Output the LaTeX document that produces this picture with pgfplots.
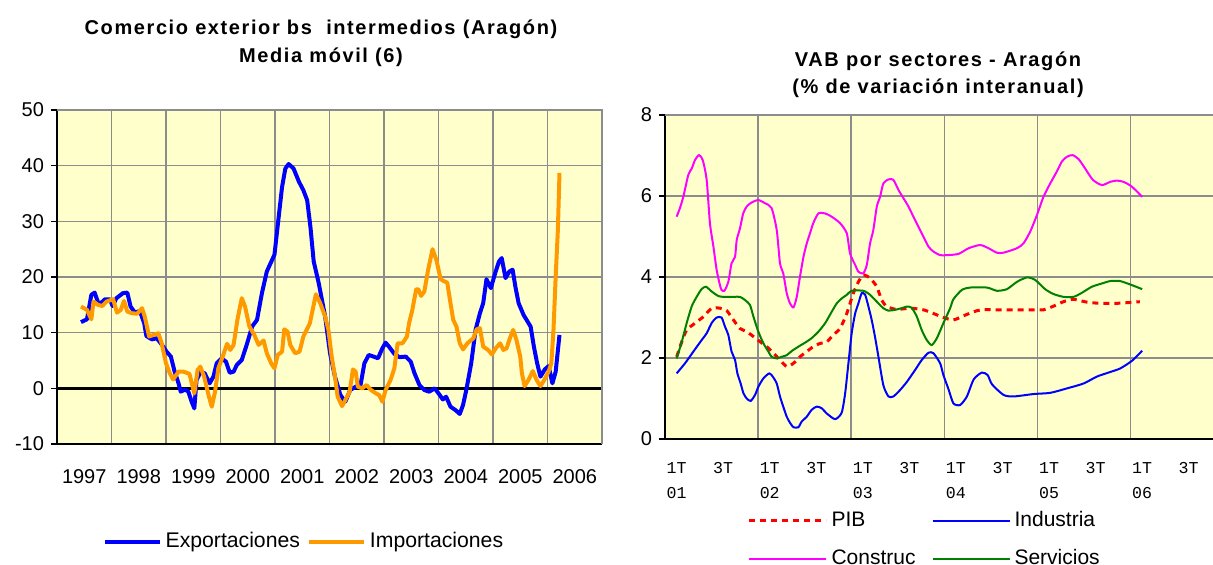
\documentclass[border=0pt]{standalone}
\usepackage{pgfplots}
\pgfplotsset{compat=1.18}
\usepackage{fontspec}
\setmainfont{Liberation Sans}
\newfontfamily\monofont{Liberation Mono}
\newfontfamily\titlefont[LetterSpace=8]{Liberation Sans Bold}
\definecolor{bgy}{HTML}{FFFFCC}
\definecolor{gridg}{HTML}{8C8C8C}
\definecolor{orng}{HTML}{FF9900}
\definecolor{grn}{HTML}{008000}
\definecolor{mag}{HTML}{FF00FF}
\begin{document}
\begin{tikzpicture}[x=1pt,y=1pt]
\useasboundingbox (0,0) rectangle (606.5,282);
\node[align=center,font=\titlefont\fontsize{10}{14}\selectfont] at (160.5,260.5) {Comercio exterior bs~ intermedios (Aragón)\\Media móvil (6)};
\node[align=center,font=\titlefont\fontsize{10}{13.5}\selectfont] at (469,244.5) {VAB por sectores - Aragón\\(\% de variación interanual)};
\begin{axis}[
  at={(28.5pt,60pt)}, anchor=south west,
  width=272.5pt, height=167pt, scale only axis,
  xmin=1997, xmax=2007, ymin=-10, ymax=50,
  ytick={-10,0,10,20,30,40,50},
  xtick={1997.5,1998.5,1999.5,2000.5,2001.5,2002.5,2003.5,2004.5,2005.5,2006.5},
  xticklabels={1997,1998,1999,2000,2001,2002,2003,2004,2005,2006},
  minor xtick={1998,1999,2000,2001,2002,2003,2004,2005,2006},
  xminorgrids, ymajorgrids,
  grid style={gridg,line width=0.6pt}, minor grid style={gridg,line width=0.6pt},
  axis background/.style={fill=bgy},
  axis lines=left, axis line style={-,black,line width=1pt},
  xtick style={draw=none}, minor tick length=0pt,
  ytick style={black,line width=0.6pt}, tick align=outside, major tick length=3pt,
  ticklabel style={font=\fontsize{10}{12}\selectfont},
  /pgf/number format/assume math mode=true,
  xticklabel style={yshift=-6pt},
  legend columns=2, legend cell align=left,
  legend style={at={(0.083,-0.292)}, anchor=west, draw=none, fill=none,
    font=\fontsize{10.6}{12}\selectfont, inner sep=0pt,
    /tikz/every even column/.append style={column sep=1.5pt}},
  legend image code/.code={\draw[#1] (0pt,0pt) -- (27.5pt,0pt);},
  after end axis/.code={\draw[gridg,line width=0.8pt] (rel axis cs:0,1) -- (rel axis cs:1,1) -- (rel axis cs:1,0);},
]
\addplot[black,line width=1.6pt,forget plot] coordinates {(1997,0) (2007,0)};
\addplot[blue,line width=2pt,line join=round] coordinates {
(1997.44,11.9)(1997.55,12.4)(1997.63,16.8)(1997.69,17.2)(1997.77,15)(1997.88,16)(1997.97,16)(1998.02,14.8)(1998.09,16.2)(1998.21,17.1)(1998.29,17.2)(1998.35,14.7)(1998.43,13.6)(1998.52,13.9)(1998.60,11.7)(1998.64,9.4)(1998.74,8.8)(1998.83,9)(1998.92,7.9)(1999.01,6.6)(1999.09,5.7)(1999.15,3.3)(1999.23,0.9)(1999.27,-0.6)(1999.35,-0.2)(1999.41,-0.6)(1999.47,-2.4)(1999.52,-3.6)(1999.56,1.5)(1999.64,3)(1999.71,2.7)(1999.80,0.9)(1999.87,2.1)(1999.93,4.5)(2000.02,5.4)(2000.10,4.8)(2000.17,2.8)(2000.24,3)(2000.30,4.2)(2000.39,5.1)(2000.48,7.8)(2000.58,11.1)(2000.67,12.3)(2000.76,17.1)(2000.85,21)(2000.99,24)(2001.04,28.4)(2001.13,36.2)(2001.19,39.5)(2001.25,40.3)(2001.34,39.5)(2001.44,37.1)(2001.52,35.6)(2001.59,33.8)(2001.65,29)(2001.71,22.8)(2001.80,19)(2001.92,12.9)(2002.01,6.3)(2002.10,2.1)(2002.20,-1.2)(2002.29,-2.4)(2002.38,-0.3)(2002.48,0.3)(2002.57,0.6)(2002.64,4.5)(2002.72,6)(2002.81,5.7)(2002.89,5.4)(2002.97,7.2)(2003.03,8.2)(2003.09,7.5)(2003.19,6.2)(2003.28,5.6)(2003.40,5.7)(2003.49,4.8)(2003.56,2.7)(2003.65,0.6)(2003.74,-0.3)(2003.83,-0.6)(2003.93,0)(2004.00,-0.9)(2004.08,-2.0)(2004.14,-1.5)(2004.22,-3.3)(2004.31,-3.9)(2004.39,-4.6)(2004.45,-3)(2004.51,-0.3)(2004.60,4.5)(2004.68,10.5)(2004.76,13.5)(2004.82,15.3)(2004.88,19.6)(2004.96,18)(2005.04,20.7)(2005.11,22.8)(2005.16,23.4)(2005.23,19.8)(2005.30,21)(2005.36,21.3)(2005.41,18.3)(2005.47,15.3)(2005.56,13.2)(2005.69,11.1)(2005.75,7.5)(2005.81,4.5)(2005.87,2.1)(2005.95,3.4)(2006.02,4)(2006.09,0.9)(2006.15,3)(2006.22,9.6)};
\addlegendentry{Exportaciones}
\addplot[orng,line width=2pt,line join=round] coordinates {
(1997.44,14.7)(1997.55,14.1)(1997.63,12.4)(1997.67,15.6)(1997.75,15)(1997.83,14.8)(1997.91,15.6)(1998.03,16)(1998.10,13.6)(1998.17,14.1)(1998.23,15.7)(1998.29,13.8)(1998.37,13.5)(1998.47,13.4)(1998.56,14.4)(1998.61,12.9)(1998.69,9.3)(1998.77,9.6)(1998.86,9.9)(1998.92,8.1)(1999.00,4.5)(1999.07,2.7)(1999.13,1.6)(1999.23,3)(1999.32,3)(1999.43,2.6)(1999.52,-0.9)(1999.58,3.3)(1999.63,3.9)(1999.70,2.1)(1999.78,-1.2)(1999.84,-3.3)(1999.90,-0.6)(1999.96,3.6)(2000.04,5.7)(2000.12,8)(2000.18,6.9)(2000.24,7.8)(2000.31,12.3)(2000.39,16.2)(2000.45,14.7)(2000.53,11.1)(2000.62,9.6)(2000.70,7.8)(2000.79,8.6)(2000.85,6.3)(2000.93,4.5)(2000.99,3.6)(2001.05,6)(2001.13,6.6)(2001.17,10.6)(2001.23,10.2)(2001.28,7.8)(2001.37,6.3)(2001.45,6.6)(2001.52,9.3)(2001.64,11.7)(2001.75,16.9)(2001.83,15.3)(2001.92,12.9)(2001.98,10.5)(2002.04,5.7)(2002.10,2.1)(2002.15,-1.5)(2002.23,-3.2)(2002.29,-2.1)(2002.37,-0.6)(2002.43,3.4)(2002.48,3)(2002.52,0.3)(2002.60,0)(2002.68,0.6)(2002.75,-0.2)(2002.85,-0.9)(2002.91,-1.2)(2002.97,-2.4)(2003.03,-0.3)(2003.12,1.5)(2003.19,3.6)(2003.25,8.1)(2003.34,8.1)(2003.42,9.3)(2003.46,11.7)(2003.52,14.1)(2003.59,17.8)(2003.63,17.8)(2003.68,16.6)(2003.74,17.4)(2003.81,21.3)(2003.89,25)(2003.96,23.1)(2004.04,19.6)(2004.11,19.2)(2004.16,19)(2004.22,15.3)(2004.27,12.3)(2004.33,11.1)(2004.39,8.1)(2004.45,7)(2004.53,8.1)(2004.64,9)(2004.70,10.6)(2004.76,10.8)(2004.82,7.5)(2004.91,6.9)(2004.98,6.1)(2005.05,7.2)(2005.13,8.1)(2005.19,6.9)(2005.25,7.2)(2005.31,9)(2005.37,10.5)(2005.43,8.7)(2005.50,5.7)(2005.53,2.7)(2005.58,0.4)(2005.65,1.5)(2005.73,3.1)(2005.80,1.5)(2005.87,0.4)(2005.94,1.5)(2006.02,3)(2006.07,4.5)(2006.11,10.5)(2006.15,20.1)(2006.19,28.4)(2006.22,38.7)};
\addlegendentry{Importaciones}
\end{axis}
\begin{axis}[
  at={(332.5pt,62.5pt)}, anchor=south west,
  width=279.3pt, height=162pt, scale only axis,
  xmin=-0.5, xmax=23.5, ymin=0, ymax=8,
  ytick={0,2,4,6,8},
  xtick={0,2,...,22},
  xticklabels={1T\\01,3T,1T\\02,3T,1T\\03,3T,1T\\04,3T,1T\\05,3T,1T\\06,3T},
  minor xtick={3.5,7.5,11.5,15.5,19.5},
  xminorgrids, ymajorgrids,
  grid style={gridg,line width=0.8pt}, minor grid style={gridg,line width=0.8pt},
  axis background/.style={fill=bgy},
  axis lines=left, axis line style={-,black,line width=1pt},
  xtick style={draw=none}, minor tick length=0pt,
  ytick style={black,line width=0.6pt}, tick align=outside, major tick length=3pt,
  yticklabel style={font=\fontsize{10}{12}\selectfont},
  xticklabel style={font=\monofont\fontsize{8.3}{12.5}\selectfont, align=center, anchor=north, yshift=-5pt},
  /pgf/number format/assume math mode=true,
  legend columns=2, legend cell align=left,
  legend style={at={(0.147,-0.21)}, anchor=north west, draw=none, fill=none,
    font=\fontsize{10.5}{12}\selectfont, inner sep=0pt, row sep=6pt,
    /tikz/every even column/.append style={column sep=6pt}},
  legend image code/.code={\draw[#1] (0pt,0pt) -- (38.5pt,0pt);},
  after end axis/.code={\draw[gridg,line width=0.8pt] (rel axis cs:0,1) -- (rel axis cs:1,1);},
]
\addplot[red,line width=1.5pt,dash pattern=on 3pt off 2.5pt,smooth,tension=0.4] coordinates {
(0,2.03)(0.22,2.40)(0.43,2.69)(0.79,2.86)(1.15,3.02)(1.51,3.23)(1.86,3.23)(2.15,3.17)(2.44,2.94)(2.72,2.73)(3.01,2.65)(3.30,2.53)(3.59,2.40)(3.87,2.28)(4.16,2.12)(4.44,1.95)(4.73,1.79)(5.02,1.87)(5.30,2.03)(5.59,2.16)(5.87,2.28)(6.16,2.36)(6.45,2.40)(6.73,2.57)(7.02,2.73)(7.31,3.10)(7.59,3.60)(7.81,3.88)(8.02,4.05)(8.31,3.97)(8.60,3.76)(8.81,3.43)(9.03,3.27)(9.46,3.20)(10.03,3.23)(10.60,3.19)(11.03,3.10)(11.46,3.00)(11.89,2.94)(12.32,3.04)(12.75,3.14)(13.11,3.19)(13.90,3.19)(15.33,3.19)(15.76,3.19)(16.19,3.28)(16.62,3.39)(17.05,3.45)(17.62,3.38)(18.20,3.35)(18.91,3.35)(19.9,3.39)};
\addlegendentry{PIB}
\addplot[blue,line width=1pt,smooth,tension=0.4] coordinates {
(0,1.62)(0.36,1.87)(0.72,2.16)(1.07,2.44)(1.29,2.61)(1.51,2.87)(1.72,3.00)(1.93,3.00)(2.08,2.77)(2.22,2.57)(2.36,2.16)(2.51,1.95)(2.61,1.62)(2.75,1.37)(2.87,1.13)(3.01,1.00)(3.18,0.94)(3.37,1.09)(3.51,1.29)(3.73,1.50)(3.98,1.62)(4.13,1.54)(4.30,1.37)(4.44,1.05)(4.58,0.80)(4.73,0.55)(4.87,0.40)(5.02,0.29)(5.23,0.29)(5.37,0.43)(5.59,0.55)(5.80,0.72)(6.02,0.80)(6.23,0.76)(6.45,0.63)(6.81,0.49)(7.09,0.65)(7.24,1.13)(7.38,1.87)(7.52,2.61)(7.67,3.10)(7.81,3.35)(7.95,3.60)(8.10,3.56)(8.24,3.27)(8.38,2.94)(8.52,2.53)(8.67,2.03)(8.88,1.33)(9.10,1.05)(9.31,1.05)(9.60,1.21)(9.89,1.41)(10.24,1.70)(10.53,1.95)(10.82,2.13)(11.03,2.12)(11.32,1.87)(11.46,1.58)(11.68,1.23)(11.89,0.88)(12.18,0.84)(12.47,1.05)(12.76,1.47)(13.11,1.64)(13.36,1.58)(13.55,1.35)(14.04,1.09)(14.47,1.05)(15.33,1.11)(16.05,1.14)(16.77,1.25)(17.48,1.37)(18.05,1.54)(18.55,1.64)(19.05,1.74)(19.56,1.93)(20.0,2.18)};
\addlegendentry{Industria}
\addplot[mag,line width=1pt,smooth,tension=0.4] coordinates {
(0,5.49)(0.14,5.70)(0.29,5.99)(0.50,6.52)(0.65,6.68)(0.79,6.89)(0.96,7.01)(1.12,6.89)(1.29,6.40)(1.43,5.33)(1.58,4.75)(1.72,4.17)(1.86,3.80)(1.93,3.68)(2.05,3.66)(2.22,3.88)(2.36,4.34)(2.51,4.50)(2.58,4.91)(2.72,5.20)(2.86,5.57)(3.01,5.74)(3.22,5.84)(3.51,5.90)(3.80,5.82)(4.08,5.70)(4.30,5.16)(4.44,4.34)(4.58,4.09)(4.73,3.60)(4.87,3.35)(5.02,3.25)(5.16,3.51)(5.30,4.01)(5.45,4.50)(5.59,4.83)(5.73,5.08)(5.87,5.33)(6.09,5.57)(6.38,5.57)(6.66,5.49)(7.02,5.33)(7.31,5.08)(7.45,4.58)(7.67,4.30)(7.81,4.13)(8.02,4.09)(8.17,4.30)(8.31,4.83)(8.45,5.16)(8.60,5.74)(8.74,5.98)(8.88,6.31)(9.10,6.41)(9.31,6.40)(9.53,6.15)(9.74,5.95)(9.95,5.75)(10.24,5.41)(10.53,5.08)(10.82,4.75)(11.03,4.63)(11.32,4.54)(11.61,4.54)(12.11,4.57)(12.54,4.71)(13.04,4.79)(13.40,4.71)(13.76,4.60)(14.04,4.60)(14.62,4.71)(14.90,4.83)(15.19,5.12)(15.48,5.53)(15.76,5.98)(16.05,6.31)(16.33,6.60)(16.55,6.85)(16.77,6.97)(17.01,7.01)(17.27,6.91)(17.55,6.68)(17.88,6.40)(18.27,6.27)(18.63,6.35)(18.91,6.38)(19.20,6.35)(19.56,6.23)(20.0,5.98)};
\addlegendentry{Construc}
\addplot[grn,line width=1pt,smooth,tension=0.4] coordinates {
(0,1.99)(0.22,2.40)(0.43,2.86)(0.65,3.28)(0.86,3.51)(1.07,3.70)(1.26,3.76)(1.51,3.64)(1.79,3.53)(2.01,3.51)(2.44,3.51)(2.72,3.51)(2.94,3.43)(3.15,3.31)(3.30,3.02)(3.51,2.65)(3.73,2.36)(3.94,2.16)(4.08,2.03)(4.30,1.99)(4.51,2.03)(4.73,2.07)(4.94,2.17)(5.23,2.28)(5.52,2.38)(5.80,2.49)(6.09,2.65)(6.38,2.86)(6.66,3.14)(6.88,3.35)(7.09,3.47)(7.31,3.56)(7.52,3.66)(8.02,3.66)(8.31,3.56)(8.60,3.39)(8.88,3.23)(9.10,3.17)(9.38,3.19)(9.67,3.23)(9.89,3.27)(10.10,3.24)(10.32,3.02)(10.53,2.69)(10.75,2.44)(10.96,2.32)(11.18,2.49)(11.46,2.86)(11.75,3.23)(11.89,3.45)(12.25,3.68)(12.61,3.74)(13.33,3.74)(13.76,3.66)(14.19,3.70)(14.62,3.88)(15.05,3.99)(15.40,3.93)(15.83,3.70)(16.19,3.58)(16.62,3.51)(17.05,3.51)(17.41,3.61)(17.84,3.76)(18.27,3.84)(18.63,3.90)(19.05,3.90)(19.56,3.80)(20.0,3.70)};
\addlegendentry{Servicios}
\end{axis}
\end{tikzpicture}
\end{document}
